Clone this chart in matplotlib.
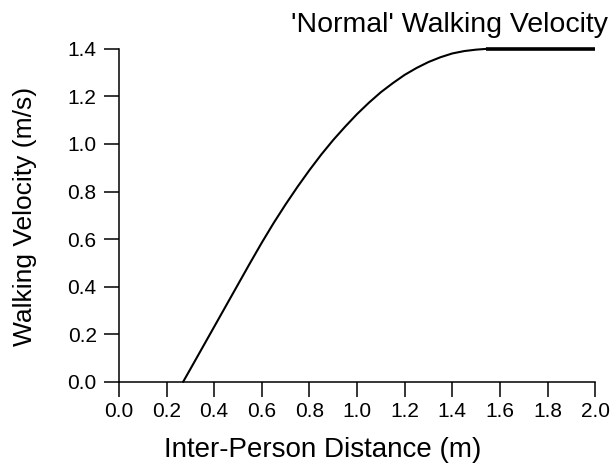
import matplotlib
matplotlib.use("Agg")
import matplotlib.pyplot as plt

plt.rcParams['font.family'] = ['Liberation Sans', 'DejaVu Sans']

# walking velocity curve
distance = [0.27, 0.30, 0.35, 0.40, 0.45, 0.50, 0.55, 0.60, 0.65, 0.70, 0.75,
            0.80, 0.85, 0.90, 0.95, 1.00, 1.05, 1.10, 1.15, 1.20, 1.25, 1.30,
            1.35, 1.40, 1.45, 1.50, 1.54]
velocity = [0.0, 0.053, 0.142, 0.231, 0.320, 0.409, 0.498, 0.585, 0.668, 0.746,
            0.820, 0.890, 0.956, 1.017, 1.073, 1.126, 1.174, 1.218, 1.256, 1.291,
            1.320, 1.345, 1.365, 1.381, 1.391, 1.397, 1.40]

# 'normal' walking velocity plateau
normal_dist = [1.54, 2.0]
normal_vel = [1.4, 1.4]

xticks = [0.0, 0.2, 0.4, 0.6, 0.8, 1.0, 1.2, 1.4, 1.6, 1.8, 2.0]
yticks = [0.0, 0.2, 0.4, 0.6, 0.8, 1.0, 1.2, 1.4]

fig = plt.figure(figsize=(6.13, 4.66), dpi=100)
ax = fig.add_axes([0.194, 0.181, 0.777, 0.714])

ax.plot(distance, velocity, color='black', lw=1.5, clip_on=False)
ax.plot(normal_dist, normal_vel, color='black', lw=2.6, clip_on=False,
        solid_capstyle='butt')

ax.set_xlim(0, 2.0)
ax.set_ylim(0, 1.4)
ax.set_xticks(xticks)
ax.set_yticks(yticks)
ax.set_xticklabels(['%.1f' % t for t in xticks])
ax.set_yticklabels(['%.1f' % t for t in yticks])

for s in ['top', 'right']:
    ax.spines[s].set_visible(False)
for s in ['left', 'bottom']:
    ax.spines[s].set_linewidth(1.1)

ax.tick_params(direction='out', length=11, width=1.1, labelsize=15)
ax.tick_params(axis='x', pad=3.5)
ax.tick_params(axis='y', pad=5)

fig.text(25 / 613, 1 - 216 / 466, 'Walking Velocity (m/s)', fontsize=19,
         rotation=90, ha='center', va='center')
fig.text(323 / 613, 1 - 450 / 466, 'Inter-Person Distance (m)', fontsize=20,
         ha='center', va='center')
fig.text(608 / 613, 1 - 25 / 466, "'Normal' Walking Velocity", fontsize=20.5,
         ha='right', va='center')

fig.savefig('out.png', dpi=100)
